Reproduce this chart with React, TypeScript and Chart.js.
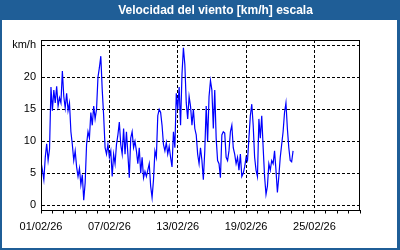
import React, { useEffect, useRef } from "react";
import { Chart, registerables } from "chart.js";

Chart.register(...registerables);

const TITLE = "Velocidad del viento [km/h] escala";
const UNIT_LABEL = "km/h";
const MONTH_SUFFIX = "/02/26";
const START_DAY = 1;
const SAMPLE_HOURS = 3;
const X_MIN_DAY = 0;
const X_MAX_DAY = 28;
const LABEL_EVERY_DAYS = 6;
const Y_TICKS = [0, 5, 10, 15, 20, 25];

// wind speed km/h, one sample every 3 hours starting 01/02/26 00:00
const windSpeed = [
  6.8, 5.5, 4.0, 7.5, 9.6, 7.0, 8.8, 18.5, 14.8, 18.0,
  16.0, 18.6, 15.5, 16.8, 16.0, 21.0, 17.0, 15.2, 17.5, 14.8,
  16.0, 11.5, 9.5, 7.0, 8.5, 6.0, 4.5, 5.8, 3.2, 4.8,
  0.8, 3.5, 9.5, 11.5, 10.5, 14.5, 12.5, 15.5, 13.5, 15.0,
  20.0, 21.5, 23.3, 18.0, 14.0, 9.0, 8.0, 9.5, 7.5, 8.5,
  4.5, 8.0, 6.5, 9.5, 11.0, 13.0, 9.5, 8.0, 12.0, 8.0,
  11.5, 8.0, 4.3, 10.5, 11.5, 9.0, 10.0, 8.5, 6.5, 9.0,
  5.0, 7.5, 4.3, 5.3, 4.5, 5.5, 6.5, 3.0, 1.2, 4.0,
  8.5, 7.5, 14.0, 15.0, 14.5, 12.5, 9.5, 8.5, 9.8, 8.0,
  9.2, 7.5, 6.0, 11.5, 9.0, 17.5, 15.0, 18.5, 12.5, 20.5,
  24.6, 22.0, 16.0, 13.5, 17.0, 15.5, 12.5, 15.0, 12.0, 11.0,
  8.0, 6.5, 9.0, 7.0, 4.0, 8.5, 15.5, 10.0, 17.0, 19.5,
  18.0, 12.0, 18.0, 10.5, 7.0, 6.5, 4.3, 11.0, 11.5, 11.3,
  7.5, 7.0, 8.5, 11.5, 12.5, 9.0, 8.0, 6.5, 7.5, 5.5,
  8.0, 4.5, 5.0, 6.0, 7.5, 7.0, 10.5, 14.0, 15.8, 12.5,
  7.5, 5.5, 4.5, 13.5, 10.5, 14.0, 9.0, 4.5, 1.7, 3.0,
  6.5, 5.5, 7.0, 6.5, 8.5, 5.5, 2.0, 4.5, 7.5, 9.5,
  11.5, 14.5, 16.0, 12.0, 9.0, 7.0, 6.8, 8.5,
];

const BAR_BLUE = "#1f5e97";
const FONT = '"Liberation Sans", Arial, sans-serif';

const framePlugin = {
  id: "frameAndTitle",
  beforeDraw(chart: any) {
    const { ctx, width } = chart;
    ctx.save();
    ctx.fillStyle = "#ffffff";
    ctx.fillRect(0, 0, width, chart.height);
    ctx.fillStyle = BAR_BLUE;
    ctx.fillRect(0, 0, width, 20);
    ctx.fillStyle = "#ffffff";
    ctx.font = `bold 12px ${FONT}`;
    ctx.textAlign = "center";
    ctx.textBaseline = "middle";
    ctx.fillText(TITLE, 215.5, 10.5);
    ctx.restore();
  },
  afterDraw(chart: any) {
    const { ctx, chartArea: a, width, height } = chart;
    ctx.save();
    ctx.setLineDash([]);
    ctx.strokeStyle = "#000000";
    ctx.lineWidth = 1;
    const l = Math.round(a.left) + 0.5;
    const t = Math.round(a.top) + 0.5;
    const r = Math.round(a.right) - 0.5;
    const b = Math.round(a.bottom) - 0.5;
    ctx.strokeRect(l, t, r - l, b - t);
    ctx.fillStyle = BAR_BLUE;
    ctx.fillRect(0, 0, 2, height);
    ctx.fillRect(width - 3, 0, 3, height);
    ctx.fillRect(0, height - 2, width, 2);
    ctx.restore();
  },
};

function dayLabel(d: number): string {
  const day = d + START_DAY;
  return String(day).padStart(2, "0") + MONTH_SUFFIX;
}

export default function App() {
  const canvasRef = useRef<HTMLCanvasElement | null>(null);

  useEffect(() => {
    document.body.style.margin = "0";
    const canvas = canvasRef.current;
    if (!canvas) return;
    const points = windSpeed.map((v, i) => ({ x: (i * SAMPLE_HOURS) / 24, y: v }));
    const chart = new Chart(canvas, {
      type: "line",
      data: {
        datasets: [
          {
            label: TITLE,
            data: points,
            borderColor: "#0000ff",
            borderWidth: 1.2,
            pointRadius: 0,
            tension: 0,
            fill: false,
          },
        ],
      },
      options: {
        animation: false,
        responsive: true,
        maintainAspectRatio: false,
        parsing: true,
        layout: { padding: { top: 40, right: 40, bottom: 0, left: 0 } },
        plugins: {
          legend: { display: false },
          title: { display: false },
          tooltip: { enabled: false },
        },
        scales: {
          x: {
            type: "linear",
            min: X_MIN_DAY,
            max: X_MAX_DAY,
            afterFit: (s: any) => {
              s.height = 39.5;
            },
            ticks: {
              stepSize: 1,
              autoSkip: false,
              maxRotation: 0,
              minRotation: 0,
              includeBounds: false,
              padding: 7,
              color: "#000000",
              font: { family: FONT, size: 11 },
              callback: (v: any) => {
                const n = Number(v);
                return n % LABEL_EVERY_DAYS === 0 && n < X_MAX_DAY ? dayLabel(n) : "";
              },
            },
            grid: {
              drawTicks: true,
              tickLength: 3,
              color: (ctx: any) =>
                ctx.tick && ctx.tick.value % LABEL_EVERY_DAYS === 0 ? "#000000" : "rgba(0,0,0,0)",
              tickColor: "#000000",
              tickBorderDash: [],
              lineWidth: 1,
            },
            border: { display: true, color: "#000000", dash: [3, 2] },
          },
          y: {
            type: "linear",
            min: -0.81,
            max: 25.83,
            afterFit: (s: any) => {
              s.width = 41;
            },
            afterBuildTicks: (s: any) => {
              s.ticks = Y_TICKS.map((v) => ({ value: v }));
            },
            ticks: {
              stepSize: 5,
              includeBounds: false,
              padding: 5,
              color: "#000000",
              font: { family: FONT, size: 11 },
              callback: (v: any) => (Number(v) === 25 ? UNIT_LABEL : String(v)),
            },
            grid: {
              drawTicks: false,
              color: "#000000",
              lineWidth: 1,
            },
            border: { display: true, color: "#000000", dash: [3, 2] },
          },
        },
      },
      plugins: [framePlugin],
    });
    return () => chart.destroy();
  }, []);

  return (
    <div style={{ width: 400, height: 250, position: "relative" }}>
      <canvas ref={canvasRef} />
    </div>
  );
}
